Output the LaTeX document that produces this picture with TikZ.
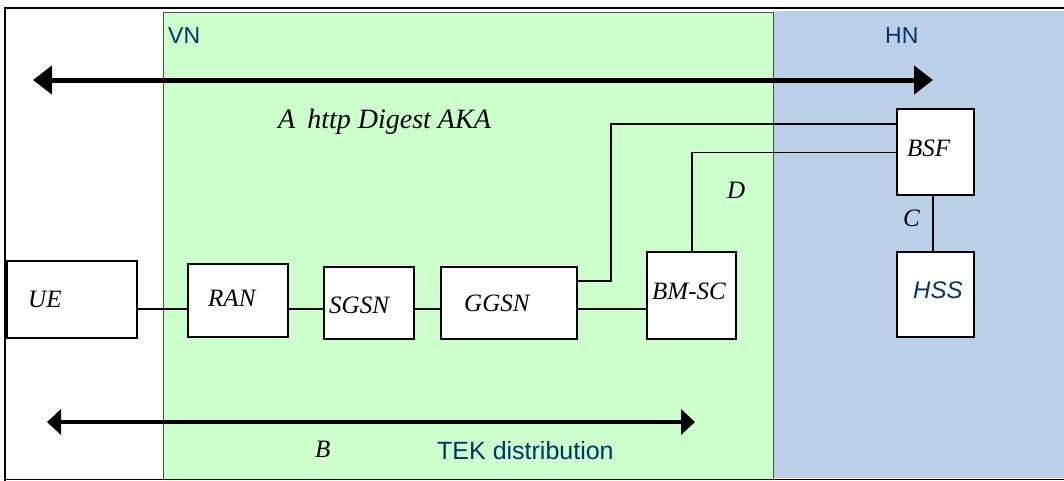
\documentclass[tikz,border=0pt]{standalone}
\usepackage{fontspec}
\setmainfont{Liberation Serif}
\setsansfont{Liberation Sans}
\usetikzlibrary{arrows.meta}
\definecolor{vngreen}{RGB}{204,255,204}
\definecolor{hnblue}{RGB}{187,208,232}
\definecolor{navy}{RGB}{0,51,102}
\tikzset{
  box/.style={draw, fill=white, line width=1.8pt, inner sep=0pt},
  conn/.style={line width=1.3pt},
  lbl/.style={anchor=base west, inner sep=0pt, font=\fontsize{25}{30}\selectfont\itshape},
  slbl/.style={anchor=base west, inner sep=0pt, text=navy, font=\fontsize{23}{28}\selectfont\sffamily},
  bigarrow/.style={line width=5pt, {Triangle[length=19pt,width=28pt]}-{Triangle[length=19pt,width=28pt]}},
  midarrow/.style={line width=4.5pt, {Triangle[length=14pt,width=25pt]}-{Triangle[length=14pt,width=25pt]}}
}
\begin{document}
\begin{tikzpicture}[x=1pt,y=-1pt]
\useasboundingbox (0,0) rectangle (1064,480);
\clip (0,0) rectangle (1064,480);
% regions
\fill[hnblue] (773,11) rectangle (1070,478);
\filldraw[fill=vngreen, draw=black!70, line width=0.9pt] (163,12) rectangle (773,479.5);
\draw[line width=2.2pt] (5,482) -- (5,8) -- (1070,8);
\draw[line width=1.6pt] (5,479.5) -- (1070,479.5);
% region labels
\node[slbl] (vn) at (168,43) {VN};
\node[slbl] (hn) at (885,43) {HN};
% boxes
\node[box, minimum width=130pt, minimum height=77pt] (ue) at (72,299.5) {};
\node[box, minimum width=100pt, minimum height=73pt] (ran) at (238,300.5) {};
\node[box, minimum width=90pt, minimum height=72pt] (sgsn) at (369,303) {};
\node[box, minimum width=136pt, minimum height=72pt] (ggsn) at (509,303) {};
\node[box, minimum width=89pt, minimum height=87pt] (bmsc) at (691.5,295.5) {};
\node[box, minimum width=77pt, minimum height=86pt] (bsf) at (935.5,152) {};
\node[box, minimum width=77pt, minimum height=85pt] (hss) at (935.5,294.5) {};
% box texts
\node[lbl] (tue) at (28,307) {UE};
\node[lbl] (tran) at (208,306) {RAN};
\node[lbl] (tsgsn) at (329,313) {SGSN};
\node[lbl] (tggsn) at (464,311) {GGSN};
\node[lbl] (tbmsc) at (652,299) {BM-SC};
\node[lbl] (tbsf) at (907,156) {BSF};
\node[anchor=base west, inner sep=0pt, text=navy, font=\fontsize{24}{28}\selectfont\sffamily\itshape] (thss) at (913,298) {HSS};
% connectors
\coordinate (row) at (0,309);
\draw[conn] (ue.east |- row) -- (ran.west |- row);
\draw[conn] (ran.east |- row) -- (sgsn.west |- row);
\draw[conn] (sgsn.east |- row) -- (ggsn.west |- row);
\draw[conn] (ggsn.east |- row) -- (bmsc.west |- row);
\coordinate (u1) at (611,281);
\coordinate (u2) at (611,124);
\draw[conn] (ggsn.east |- u1) -- (u1) -- (u2) -- (bsf.west |- u2);
\coordinate (l1) at (692,152.5);
\draw[conn] (bmsc.north -| l1) -- (l1) -- (bsf.west |- l1);
\draw[conn] ([xshift=-2.5pt]bsf.south) -- ([xshift=-2.5pt]hss.north);
% arrows
\coordinate (a1) at (33,80);
\coordinate (a2) at (933,80);
\draw[bigarrow] (a1) -- (a2);
\coordinate (b1) at (47,422);
\coordinate (b2) at (695,422);
\draw[midarrow] (b1) -- (b2);
% interface labels
\node[lbl, font=\fontsize{28}{32}\selectfont\itshape] (la) at (278,128) {A\hspace{12pt}http Digest AKA};
\node[lbl] (ld) at (727,198) {D};
\node[lbl] (lc) at (903,226) {C};
\node[lbl] (lb) at (315,457) {B};
\node[slbl, font=\fontsize{25}{30}\selectfont\sffamily] (tek) at (437,459) {TEK distribution};
\end{tikzpicture}
\end{document}
